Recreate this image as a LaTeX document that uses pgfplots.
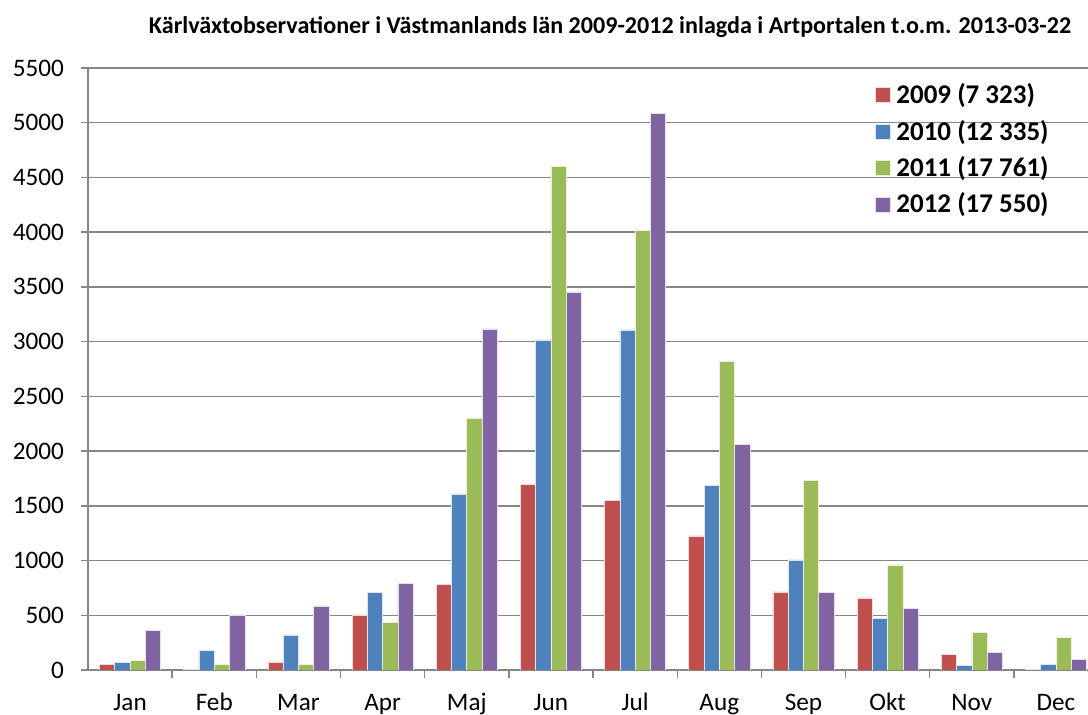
\documentclass[border=0pt]{standalone}
\usepackage{fontspec}
\setmainfont{Carlito}
\usepackage{pgfplots}
\pgfplotsset{compat=1.18}
\definecolor{cA}{HTML}{C0504D}
\definecolor{cB}{HTML}{4F81BD}
\definecolor{cC}{HTML}{9BBB59}
\definecolor{cD}{HTML}{8064A2}
\definecolor{gridc}{HTML}{868686}
\begin{document}
\begin{tikzpicture}
\useasboundingbox (0,0) rectangle (544pt,357.5pt);
\node[font=\bfseries\fontsize{12.05}{14}\selectfont] at (305pt,344pt) {Kärlväxtobservationer i Västmanlands län 2009-2012 inlagda i Artportalen t.o.m. 2013-03-22};
\begin{axis}[
  at={(44pt,22.5pt)}, anchor=south west,
  width=500pt, height=301pt, scale only axis,
  xmin=-0.5, xmax=11.38, ymin=0, ymax=5500,
  ytick={0,500,...,5500},
  ymajorgrids, grid style={gridc, line width=0.7pt},
  axis x line*=bottom, axis y line*=left,
  axis line style={gridc, line width=0.7pt},
  every tick/.style={gridc, line width=0.7pt},
  tick align=outside,
  xtick={0,...,11},
  xticklabels={Jan,Feb,Mar,Apr,Maj,Jun,Jul,Aug,Sep,Okt,Nov,Dec},
  major x tick style={draw=none},
  minor xtick={0.5,1.5,...,11.5},
  minor tick length=4pt,
  major tick length=3.5pt,
  ticklabel style={font=\fontsize{12.6}{14}\selectfont, text=black},
  xticklabel style={anchor=base, yshift=-17pt},
  yticklabel style={anchor=east, xshift=-5pt},
  /pgf/number format/set thousands separator={},
  /pgf/number format/assume math mode=true,
  ybar=0pt, bar width=7.65pt,
  legend style={draw=none, fill=none, at={(0.781,0.983)}, anchor=north west,
    font=\bfseries\fontsize{13.5}{16}\selectfont, row sep=5.7pt,
    nodes={inner xsep=1.2pt, inner ysep=0.5pt},
    /tikz/every odd column/.append style={column sep=1.5pt}},
  legend cell align=left,
  legend image code/.code={\fill[#1] (0pt,-3.75pt) rectangle (7.5pt,3.75pt);},
]
\addplot[fill=cA, draw=white!80!cA, line width=0.3pt] coordinates {(0,52) (1,7) (2,73) (3,503) (4,780) (5,1697) (6,1551) (7,1225) (8,713) (9,658) (10,140) (11,9)};
\addplot[fill=cB, draw=white!80!cB, line width=0.3pt] coordinates {(0,70) (1,180) (2,320) (3,710) (4,1609) (5,3016) (6,3108) (7,1688) (8,1005) (9,472) (10,40) (11,52)};
\addplot[fill=cC, draw=white!80!cC, line width=0.3pt] coordinates {(0,88) (1,52) (2,49) (3,436) (4,2303) (5,4600) (6,4015) (7,2818) (8,1734) (9,960) (10,347) (11,295)};
\addplot[fill=cD, draw=white!80!cD, line width=0.3pt] coordinates {(0,359) (1,503) (2,585) (3,789) (4,3117) (5,3455) (6,5085) (7,2059) (8,707) (9,564) (10,164) (11,94)};
\legend{2009 (7 323), 2010 (12 335), 2011 (17 761), 2012 (17 550)}
\end{axis}
\end{tikzpicture}
\end{document}
